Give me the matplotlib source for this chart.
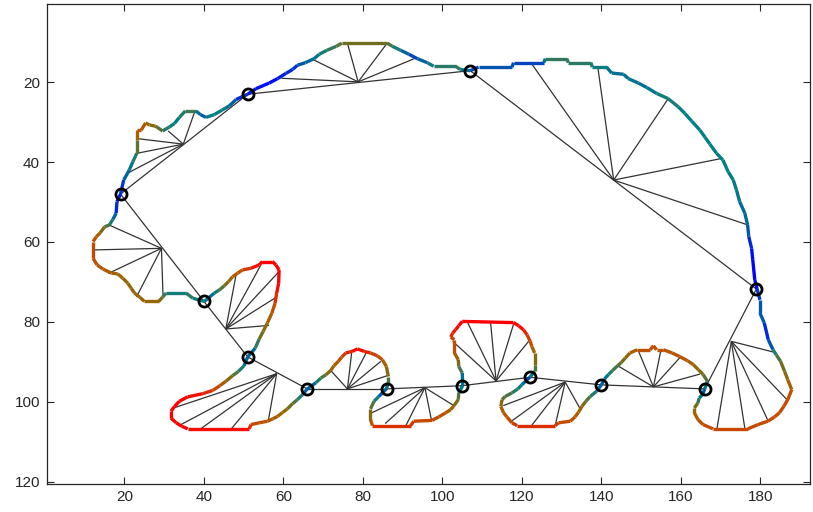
import numpy as np
import matplotlib
matplotlib.use("Agg")
import matplotlib.pyplot as plt
from matplotlib.collections import LineCollection
from matplotlib.colors import LinearSegmentedColormap

# ---- contour (x, y, curvature colour value 0..1) ----
contour_x = [19, 19.8, 21.2, 22.1, 23.1, 23.1, 23.1, 24.2, 25.3, 26.3, 27.8, 29.6, 31.3, 32.6, 33.8, 35.3, 38, 39.1, 40.5, 42.6, 44.5, 46.4, 48.1, 51,
             53.1, 56.4, 58.5, 60.6, 62.3, 63.5, 65.5, 67.7, 69, 70.9, 73.3, 74.7, 86.1, 87.4, 89.5, 91.6, 93.7, 96.2, 97.8, 103.3, 104.5, 107,
             109.1, 117.5, 117.9, 125.5, 125.9, 131.3, 131.7, 137.4, 137.7, 141.3, 142.6, 145.6, 146.8, 149.3, 151.4, 153.9, 156.8, 159.4, 161, 162.7, 164.8, 166.1, 167.3, 169, 170.6, 171.9, 173.2, 174, 174.8, 176.1, 176.8, 177.1, 177.8, 178.1, 178.6, 179.2,
             179.9, 179.9, 181, 182, 183.2, 184, 185.1, 186.1, 186.9, 187.9, 186.9, 185.9, 184.8, 183.6, 181.9, 179.4, 176.9, 168.1, 165.6, 164.3, 163.4, 163.4, 164.3, 164.6, 165.5, 166,
             166.7, 165.6, 164.4, 163.1, 161.7, 159.7, 157.8, 155.6, 153.9, 153.1, 152.3, 149, 147.2, 146, 145, 144.1, 142.8, 141.8, 140.8, 140,
             138.8, 137.2, 136.1, 135.1, 134.2, 133.4, 132.2, 129.2, 128.4, 118.8, 117.5, 116.2, 115.4, 114.7, 115, 115.8, 117.5, 119, 120, 120.9, 122,
             123.2, 123.2, 123.2, 122.5, 122.1, 121.3, 120.4, 119.2, 117.9, 105, 104.1, 103.3, 102.6, 102.1, 103, 103, 104, 104.1, 105, 105.1,
             104.1, 104, 102.9, 102.1, 100.8, 99.1, 97.4, 92.8, 92, 82.4, 81.9, 81.9, 82.8, 84, 85.9,
             86.4, 86.4, 85.9, 84.9, 83.6, 81.9, 80.3, 78.6, 77.3, 75.7, 74.7, 73.8, 72.7, 71.9, 70.7, 69.4, 68.1, 66,
             64.8, 63.5, 62.3, 61, 59.8, 58.5, 57.3, 56, 53.9, 51.8, 51.4, 35.9, 34.5, 33, 31.7, 31.7, 32.6, 33.8, 35.9, 39.7, 42.2, 44, 45.5, 47.2, 48.7, 50.1, 51,
             52.9, 53.9, 54.9, 56, 57.1, 57.9, 58.3, 58.8, 58.9, 58.1, 57.2, 54.7, 53.9, 51.8, 49.7, 48.5, 47.2, 46.2, 45.1, 43.9, 42.6, 40.1,
             37.2, 35.5, 30.5, 29.6, 28.6, 25, 23.8, 22.5, 21.7, 20.8, 19.6, 18.3, 16.7, 14.6, 13.1, 12.1, 12.1, 12.9, 13.9, 15, 16.2, 17.1, 17.9, 18.1, 19]
contour_y = [48, 44.5, 42, 39.9, 37.8, 34.5, 32, 32, 30.2, 30.7, 31, 32.2, 31.2, 30.3, 28.8, 27.2, 27.2, 28.1, 28.8, 28.1, 27, 25.9, 24.3, 23,
             21.6, 20.2, 19.1, 17.8, 16.8, 15.75, 15.1, 14.1, 13, 12, 11, 10.2, 10.2, 11, 12, 13, 14.1, 15.1, 16, 16, 16.8, 17.1,
             16.2, 16.2, 15.1, 15.1, 14.1, 14.1, 15.1, 15.1, 16.2, 16.2, 17.7, 18, 19.1, 20.2, 21.3, 22.8, 24.1, 26.2, 27.8, 29.7, 32, 33.8, 35.5, 37.8, 39.5, 42.4, 44.5, 47, 49.9, 52.8, 55.75, 58.7, 61.6, 64.5, 69.5, 71.8,
             74.5, 77.8, 80.3, 84.5, 87, 88.25, 89.9, 92.4, 94.5, 97, 99.5, 101.2, 102.8, 103.8, 104.9, 105.75, 106.8, 106.8, 105.75, 104.5, 102.8, 101.6, 100.3, 99.1, 98.2, 96.8,
             94.9, 93.2, 92, 90.7, 89.75, 88.7, 87.8, 87, 87, 86, 87, 87, 87.8, 89.1, 90.2, 91, 92.2, 93.2, 94.3, 95.8,
             97.4, 98.7, 99.9, 101.2, 102.7, 103.8, 104.9, 105.3, 106, 106, 105.3, 103.8, 102.8, 101.2, 99.5, 98.7, 97.8, 96.8, 95.75, 94.9, 93.9,
             92.4, 90.7, 87.8, 86.2, 84.9, 83.25, 82, 81, 80.2, 79.9, 81, 82, 82.8, 83.8, 84.5, 87.8, 89.5, 91.2, 92.8, 96,
             97.8, 99.5, 101, 102, 102.8, 103.8, 104.7, 104.9, 106, 106, 104.5, 101.8, 99.9, 98.7, 96.8,
             95.3, 93.7, 91.2, 89.5, 88.5, 87.8, 87.4, 86.8, 87.4, 87.8, 88.8, 89.9, 91, 92.2, 93.25, 94.1, 95.3, 96.8,
             98.25, 99.5, 100.5, 101.8, 102.7, 103.7, 104.3, 104.9, 105.3, 105.75, 106.8, 106.8, 106.2, 105.3, 104.1, 102.4, 101.2, 99.9, 98.8, 98, 97.2, 96, 94.9, 93.5, 92.4, 91, 88.8,
             86.6, 84.3, 82.4, 80.2, 77.8, 75.3, 72.8, 70.3, 67, 65.75, 64.9, 64.9, 65.75, 66.6, 67, 67.8, 68.7, 69.9, 71, 72, 72.8, 74.9,
             74.1, 72.8, 72.8, 73.8, 74.9, 74.9, 73.8, 72.8, 71.6, 70.3, 69.1, 68, 67.8, 66.8, 65.75, 64.1, 59.9, 58.7, 57.7, 56.2, 55.75, 54.3, 52.8, 49.9, 48]
contour_c = [0.05, 0.15, 0.25, 0.3, 0.45, 0.65, 0.8, 0.8, 0.78, 0.68, 0.65, 0.45, 0.35, 0.3, 0.3, 0.45, 0.45, 0.05, 0.3, 0.3, 0.3, 0.25, 0.12, 0.05,
             0.05, 0.0, 0.05, 0.05, 0.1, 0.1, 0.2, 0.25, 0.3, 0.4, 0.45, 0.6, 0.6, 0.4, 0.3, 0.1, 0.15, 0.25, 0.4, 0.4, 0.45, 0.1,
             0.15, 0.15, 0.12, 0.12, 0.42, 0.42, 0.4, 0.4, 0.35, 0.3, 0.25, 0.25, 0.25, 0.25, 0.25, 0.28, 0.4, 0.3, 0.3, 0.3, 0.3, 0.3, 0.3, 0.3, 0.3, 0.3, 0.3, 0.28, 0.25, 0.2, 0.25, 0.1, 0.05, 0.0, 0.0, 0.05,
             0.15, 0.2, 0.15, 0.0, 0.3, 0.45, 0.55, 0.65, 0.7, 0.8, 0.85, 0.85, 0.85, 0.85, 0.85, 0.85, 0.85, 0.85, 0.82, 0.8, 0.72, 0.7, 0.55, 0.3, 0.25, 0.1,
             0.45, 0.6, 0.7, 0.7, 0.78, 0.8, 0.8, 0.82, 0.82, 0.85, 0.82, 0.8, 0.72, 0.65, 0.6, 0.5, 0.45, 0.3, 0.25, 0.1,
             0.3, 0.45, 0.6, 0.7, 0.75, 0.8, 0.82, 0.85, 0.9, 0.9, 0.85, 0.8, 0.78, 0.72, 0.62, 0.5, 0.45, 0.35, 0.3, 0.15, 0.1,
             0.45, 0.6, 0.7, 0.8, 0.85, 0.9, 0.95, 1, 1, 1, 1, 0.95, 0.95, 0.9, 0.85, 0.8, 0.7, 0.55, 0.4, 0.1,
             0.45, 0.6, 0.7, 0.75, 0.8, 0.82, 0.85, 0.85, 0.9, 0.9, 0.72, 0.6, 0.45, 0.25, 0.1,
             0.4, 0.6, 0.72, 0.8, 0.85, 0.9, 0.95, 1, 0.95, 0.9, 0.85, 0.8, 0.72, 0.7, 0.6, 0.45, 0.3, 0.1,
             0.3, 0.45, 0.55, 0.68, 0.7, 0.75, 0.78, 0.8, 0.82, 0.88, 0.95, 1, 1, 1, 1, 1, 1, 1, 1, 0.95, 0.88, 0.82, 0.72, 0.6, 0.45, 0.3, 0.1,
             0.3, 0.55, 0.65, 0.7, 0.8, 0.85, 0.95, 1, 1, 1, 1, 1, 1, 0.92, 0.85, 0.8, 0.75, 0.7, 0.6, 0.45, 0.3, 0.2,
             0.45, 0.35, 0.35, 0.55, 0.7, 0.7, 0.7, 0.68, 0.68, 0.7, 0.7, 0.72, 0.75, 0.8, 0.8, 0.85, 0.85, 0.8, 0.7, 0.6, 0.45, 0.3, 0.1, 0.05, 0.05]

# ---- breakpoints (circles) ----
break_x = [19, 51, 107, 179, 166, 140, 122, 105, 86, 66, 51, 40]
break_y = [48, 23, 17.1, 71.8, 96.8, 95.8, 93.9, 96, 96.8, 96.8, 88.8, 74.9]

# ---- fan centres and fan end points ----
fan_cx = [34.8, 78.8, 143.1, 172.7, 153.1, 130.9, 113.5, 95.6, 76.1, 58.3, 45.5, 29.3]
fan_cy = [35.5, 19.9, 44.5, 84.9, 96.3, 95.1, 94.8, 96.5, 96.8, 93.0, 81.8, 61.6]
fan_ex = [[23.1, 23.1, 20.5, 31.0, 37.8],
          [59.5, 67.0, 76.1, 86.1, 92.9],
          [122.4, 139.1, 156.9, 170.2, 176.9],
          [183.4, 186.9, 181.9, 176.1, 169.1],
          [144.1, 149.2, 155.0, 160.0, 164.8],
          [115.3, 117.1, 122.5, 128.4, 134.9],
          [102.6, 106.2, 112.1, 117.9, 121.7],
          [82.2, 85.6, 90.8, 97.3, 102.9],
          [71.9, 77.2, 80.8, 84.5, 86.1],
          [32.3, 34.2, 39.2, 46.9, 56.2],
          [48.1, 54.3, 59.0, 58.1, 56.4],
          [16.1, 12.1, 15.9, 23.0, 29.7]]
fan_ey = [[34.1, 37.8, 42.9, 32.2, 27.0],
          [19.0, 14.1, 10.2, 10.2, 14.1],
          [15.3, 16.2, 24.0, 39.1, 55.75],
          [87.6, 99.7, 104.7, 106.7, 106.7],
          [91.0, 87.0, 87.0, 88.7, 93.1],
          [101.0, 105.1, 105.9, 105.9, 102.2],
          [84.9, 79.9, 79.9, 80.6, 84.9],
          [102.8, 105.5, 106.0, 104.9, 101.0],
          [92.2, 87.4, 87.8, 89.9, 93.5],
          [101.6, 105.75, 106.8, 106.8, 104.7],
          [68.1, 65.8, 67.3, 73.9, 80.9],
          [55.75, 62.0, 67.9, 73.8, 73.6]]

xticks = [20, 40, 60, 80, 100, 120, 140, 160, 180]
yticks = [20, 40, 60, 80, 100, 120]

cmap = LinearSegmentedColormap.from_list("curv", [
    (0.0, (0.0, 0.0, 1.0)),
    (0.15, (0.0, 0.33, 0.68)),
    (0.3, (0.0, 0.5, 0.52)),
    (0.45, (0.24, 0.47, 0.33)),
    (0.6, (0.43, 0.43, 0.12)),
    (0.72, (0.62, 0.40, 0.0)),
    (0.85, (0.78, 0.29, 0.0)),
    (1.0, (1.0, 0.0, 0.0))])

fig = plt.figure(figsize=(8.13, 5.12), dpi=100)
ax = fig.add_axes([47 / 813, 1 - 483.5 / 512, (810 - 47) / 813, (483.5 - 4.4) / 512])

# fan lines
segs = []
for cx, cy, exs, eys in zip(fan_cx, fan_cy, fan_ex, fan_ey):
    for ex, ey in zip(exs, eys):
        segs.append([(cx, cy), (ex, ey)])
nb = len(break_x)
for i in range(nb):
    segs.append([(break_x[i], break_y[i]), (break_x[(i + 1) % nb], break_y[(i + 1) % nb])])
ax.add_collection(LineCollection(segs, colors=(0.2, 0.2, 0.2), linewidths=0.9, zorder=1))

# coloured contour
pts = np.column_stack([contour_x, contour_y])
cseg = np.stack([pts[:-1], pts[1:]], axis=1)
cval = (np.array(contour_c[:-1]) + np.array(contour_c[1:])) / 2
lc = LineCollection(cseg, cmap=cmap, linewidths=2.4, zorder=2, capstyle='butt', joinstyle='miter')
lc.set_array(cval)
lc.set_clim(0, 1)
ax.add_collection(lc)

# breakpoints
ax.plot(break_x, break_y, 'o', ms=8, mfc='none', mec='black', mew=2.0, zorder=3)

ax.set_xlim(0.5, 192.5)
ax.set_ylim(120.5, 0.5)
ax.set_xticks(xticks)
ax.set_yticks(yticks)
ax.tick_params(direction='in', length=5, width=0.8, top=True, right=True,
               labelsize=11, colors=(0.15, 0.15, 0.15), pad=5)
for s in ax.spines.values():
    s.set_linewidth(0.9)
    s.set_color((0.15, 0.15, 0.15))
for lab in ax.get_xticklabels() + ax.get_yticklabels():
    lab.set_fontfamily('Liberation Sans')

fig.savefig("out.png", dpi=100)
